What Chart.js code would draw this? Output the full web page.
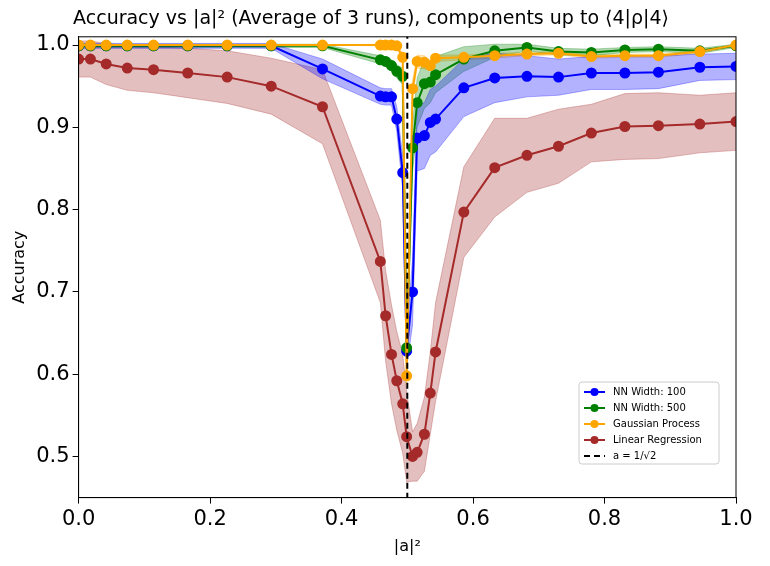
<!DOCTYPE html>
<html><head><meta charset="utf-8">
<script src="https://cdn.jsdelivr.net/npm/chart.js@4"></script>
<style>body{margin:0;background:#fff}#w{width:770px;height:566px}</style>
</head><body><div id="w"><canvas id="c"></canvas></div>
<script>
const xs=[0,0.018,0.042,0.074,0.114,0.166,0.226,0.293,0.371,0.459,0.467,0.476,0.484,0.493,0.499,0.508,0.515,0.526,0.535,0.543,0.586,0.633,0.682,0.730,0.780,0.831,0.882,0.945,1.0];
const nn100=[0.999,0.999,0.999,0.999,0.999,0.999,0.999,0.999,0.971,0.938,0.937,0.937,0.91,0.845,0.628,0.70,0.887,0.89,0.906,0.91,0.948,0.96,0.962,0.961,0.966,0.966,0.967,0.973,0.974];
const nn100Err=[0.003,0.003,0.003,0.003,0.003,0.003,0.003,0.003,0.012,0.01,0.01,0.01,0.015,0.02,0.02,0.04,0.04,0.04,0.04,0.04,0.035,0.03,0.025,0.022,0.02,0.02,0.02,0.016,0.016];
const nn500=[0.999,0.999,0.999,0.999,0.999,0.999,0.999,0.999,0.999,0.982,0.98,0.975,0.968,0.962,0.632,0.875,0.93,0.953,0.955,0.964,0.983,0.993,0.997,0.992,0.991,0.994,0.995,0.993,0.999];
const nn500Err=[0.002,0.002,0.002,0.002,0.002,0.002,0.002,0.002,0.002,0.005,0.006,0.007,0.008,0.01,0.01,0.03,0.03,0.03,0.025,0.022,0.015,0.008,0.004,0.004,0.004,0.003,0.003,0.003,0.002];
const gp=[1.0,1.0,1.0,1.0,1.0,1.0,1.0,1.0,1.0,1.0,1.0,1.0,0.999,0.985,0.598,0.947,0.98,0.979,0.975,0.984,0.985,0.987,0.989,0.99,0.986,0.987,0.987,0.992,1.0];
const gpErr=[0,0,0,0,0,0,0,0,0,0.001,0.001,0.001,0.002,0.005,0.01,0.01,0.008,0.008,0.006,0.004,0.003,0.003,0.002,0.002,0.002,0.002,0.002,0.002,0.001];
const lr=[0.983,0.983,0.977,0.972,0.97,0.966,0.961,0.95,0.925,0.737,0.671,0.624,0.592,0.564,0.524,0.5,0.505,0.527,0.577,0.627,0.797,0.851,0.866,0.877,0.893,0.901,0.902,0.904,0.907];
const lrErr=[0.022,0.022,0.025,0.027,0.028,0.03,0.032,0.034,0.045,0.05,0.055,0.06,0.06,0.06,0.055,0.03,0.035,0.045,0.05,0.06,0.055,0.06,0.045,0.045,0.035,0.04,0.04,0.035,0.035];
const pts=v=>xs.map((x,i)=>({x:x,y:v[i]}));
const bnd=(v,e,s)=>xs.map((x,i)=>({x:x,y:v[i]+s*e[i]}));
const series=[["NN Width: 100",nn100,nn100Err,"#0000ff","rgba(0,0,255,0.3)",3],["NN Width: 500",nn500,nn500Err,"#008000","rgba(0,128,0,0.3)",2],["Gaussian Process",gp,gpErr,"#ffa500","rgba(255,165,0,0.3)",1],["Linear Regression",lr,lrErr,"#a52a2a","rgba(165,42,42,0.3)",4]];
const ds=[];
series.forEach(([n,v,e,c,f])=>{
 ds.push({label:'_lo',data:bnd(v,e,-1),borderWidth:1,borderColor:f,pointRadius:0,fill:false,order:10});
 ds.push({label:'_hi',data:bnd(v,e,1),borderWidth:1,borderColor:f,backgroundColor:f,pointRadius:0,fill:'-1',order:10});
});
series.forEach(([n,v,e,c,f,o])=>{
 ds.push({label:n,data:pts(v),borderColor:c,backgroundColor:c,borderWidth:2,pointRadius:4.5,pointHoverRadius:4.5,fill:false,order:o});
});
ds.push({label:'a = 1/√2',data:[{x:0.5,y:0.4},{x:0.5,y:1.1}],borderColor:'#000',borderDash:[6,4],borderWidth:2,pointRadius:0,fill:false,order:0});
const legendPlugin={id:'lg',afterDraw(ch){
 const g=ch.ctx;const a=ch.chartArea;
 g.save();g.strokeStyle='#000';g.lineWidth=1;g.strokeRect(a.left,a.top,a.right-a.left,a.bottom-a.top);
 const items=series.map(s=>ds.find(d=>d.label===s[0])).concat([ds[ds.length-1]]);
 const x0=579,y0=382,w=140,h=82;
 g.fillStyle='rgba(255,255,255,0.85)';g.strokeStyle='#ccc';
 g.beginPath();g.roundRect(x0,y0,w,h,3);g.fill();g.stroke();
 g.font='10px "DejaVu Sans"';g.textBaseline='middle';
 items.forEach((d,i)=>{const y=y0+10+i*16;
  g.strokeStyle=d.borderColor;g.lineWidth=2;g.setLineDash(d.borderDash||[]);
  g.beginPath();g.moveTo(x0+5,y);g.lineTo(x0+26,y);g.stroke();g.setLineDash([]);
  if(d.pointRadius){g.fillStyle=d.borderColor;g.beginPath();g.arc(x0+15.5,y,4,0,7);g.fill();}
  g.fillStyle='#000';g.fillText(d.label,x0+34,y);});
 g.restore();}};
new Chart(document.getElementById('c'),{type:'line',data:{datasets:ds},plugins:[legendPlugin],
options:{responsive:true,maintainAspectRatio:false,animation:false,
 layout:{padding:{top:6,right:34,left:6,bottom:6}},
 plugins:{legend:{display:false},tooltip:{enabled:false},
  title:{display:true,text:'Accuracy vs |a|² (Average of 3 runs), components up to ⟨4|ρ|4⟩',color:'#000',font:{family:'DejaVu Sans',size:19,weight:'normal'},padding:{top:2,bottom:6}}},
 scales:{
  x:{type:'linear',min:0,max:1,grid:{drawOnChartArea:false,tickLength:6,color:'#000'},border:{color:'#000',width:1},
   ticks:{stepSize:0.2,color:'#000',font:{family:'DejaVu Sans',size:21},callback:v=>v.toFixed(1)},
   title:{display:true,text:'|a|²',color:'#000',font:{family:'DejaVu Sans',size:16},padding:{top:2}}},
  y:{min:0.45,max:1.01,grid:{drawOnChartArea:false,tickLength:6,color:'#000'},border:{color:'#000',width:1},
   afterBuildTicks:a=>{a.ticks=[0.5,0.6,0.7,0.8,0.9,1.0].map(v=>({value:v}));},
   ticks:{color:'#000',font:{family:'DejaVu Sans',size:21},callback:v=>v.toFixed(1)},
   title:{display:true,text:'Accuracy',color:'#000',font:{family:'DejaVu Sans',size:16}}}}}});
</script></body></html>
